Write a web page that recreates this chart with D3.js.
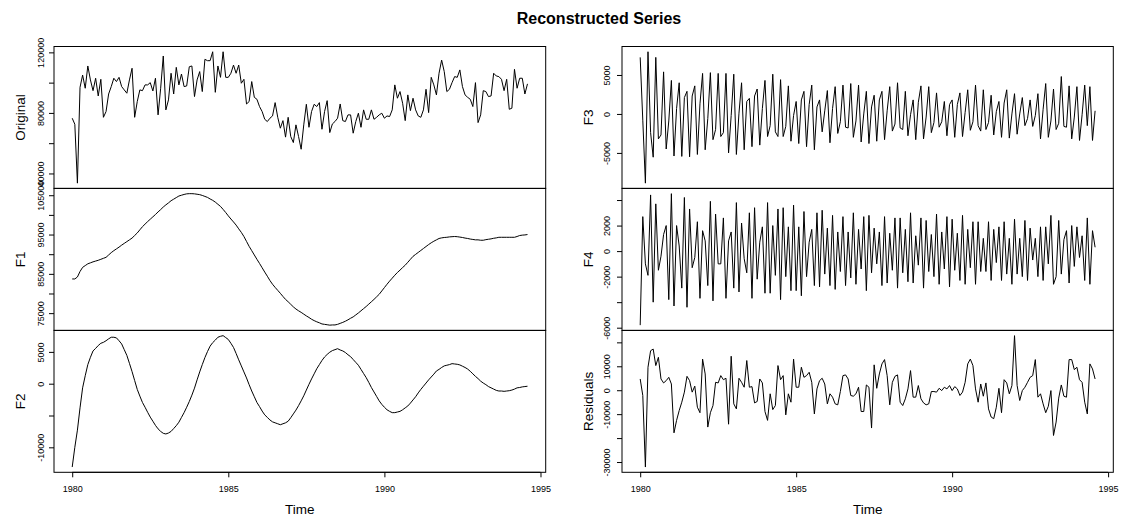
<!DOCTYPE html>
<html><head><meta charset="utf-8">
<script src="https://cdn.jsdelivr.net/npm/d3@7"></script>
<style>
body{margin:0;background:#fff}
svg{display:block}
text{font-family:"Liberation Sans",Arial,Helvetica,sans-serif;fill:#000}
</style></head>
<body><svg id="chart" width="1123" height="518"></svg>
<script>
// ---------------- data (monthly, Jan 1980 .. Aug 1994) ----------------
const startYear = 1980;
const monthsPerYear = 12;
const chartTitle = "Reconstructed Series";
const xTickYears = [1980, 1985, 1990, 1995];

const original = [
76500,72500,33600,96900,105000,96300,111000,101800,94700,102900,
91200,102200,77100,80900,92500,97400,102900,100700,103500,97400,
95200,93000,101800,109500,77100,87500,95200,94700,98500,98500,
100000,94500,102900,78700,96300,117600,82000,88600,106200,92500,
110100,98500,105700,97400,97800,110500,111000,90800,101800,107300,
94100,115400,114500,114500,120400,93600,111000,103500,120400,103500,
103500,106200,111600,106200,111600,99600,102200,85900,87500,100700,
90300,89000,84200,80900,75800,74300,76500,78000,86800,77100,
69900,74900,64000,77100,64400,60400,72100,64400,56000,72100,
85700,70500,80900,85700,84200,86800,69200,80900,88100,67000,
72700,74300,76500,85900,74900,74300,78700,78700,66600,74300,
79800,70500,82000,75800,75800,82000,75800,77100,78700,79800,
76500,78000,77600,82000,98500,89700,94100,86400,74900,91900,
81500,89700,82000,78000,77100,82000,95600,80200,103500,98500,
91900,106200,114900,107300,94100,95600,100000,104000,103500,108400,
97400,91900,90300,89000,84200,100000,73600,78700,94700,94100,
90800,91200,106200,104400,104000,102200,94700,102200,82400,83100,
108800,96300,102900,102900,92500,99200];

const f1 = [
83700,83700,84200,85600,86650,87100,87550,87800,88050,88250,
88450,88700,88950,89200,89800,90400,90900,91350,91800,92300,
92750,93200,93650,94100,94750,95400,96200,97000,97650,98300,
98900,99500,100100,100750,101350,102000,102550,103050,103600,104000,
104400,104800,105000,105200,105350,105400,105400,105350,105250,105150,
104950,104700,104450,104050,103700,103250,102700,102150,101400,100600,
99750,98950,98200,97400,96450,95550,94500,93250,92000,90900,
89800,88700,87650,86550,85450,84400,83300,82350,81550,80800,
80050,79250,78500,77900,77250,76600,76050,75600,75200,74750,
74300,73900,73450,73100,72800,72550,72250,72150,72050,71950,
72000,72000,72150,72400,72650,72950,73300,73700,74050,74550,
75050,75600,76150,76700,77300,77900,78500,79150,79800,80650,
81500,82350,83150,83900,84650,85350,85950,86600,87200,87950,
88700,89450,89950,90450,90950,91450,91950,92450,92900,93300,
93650,94000,94150,94250,94300,94400,94450,94500,94450,94350,
94250,94100,94000,93850,93750,93650,93650,93550,93550,93700,
93800,93900,94050,94150,94300,94300,94300,94300,94300,94300,
94300,94500,94750,94850,94900,95000];

const f2 = [
-13100,-10000,-7300,-3800,-650,1250,3000,4150,5150,5550,
6000,6350,6500,6750,7050,7300,7300,7200,6750,6250,
5350,4450,3200,1900,500,-900,-1950,-2950,-3700,-4500,
-5250,-5900,-6550,-7100,-7500,-7800,-7900,-7750,-7500,-7050,
-6600,-6050,-5300,-4550,-3700,-2800,-1800,-700,600,1850,
3000,4100,5050,5900,6450,6850,7300,7450,7550,7250,
6950,6350,5700,4750,3750,2800,1850,900,-150,-1150,
-2050,-2950,-3600,-4300,-4900,-5300,-5700,-6000,-6150,-6300,
-6450,-6300,-6150,-5900,-5350,-4750,-4150,-3450,-2700,-1900,
-1000,-100,750,1550,2350,3000,3650,4200,4600,4950,
5200,5350,5500,5300,5150,4900,4550,4250,3800,3350,
2900,2250,1600,950,200,-600,-1300,-2000,-2700,-3250,
-3700,-4100,-4350,-4550,-4550,-4450,-4350,-4100,-3800,-3500,
-3050,-2550,-2050,-1450,-900,-400,100,600,1050,1500,
2000,2250,2550,2800,2900,3000,3150,3100,3050,2950,
2750,2550,2300,1950,1550,1150,800,400,100,-150,
-450,-650,-850,-1050,-1150,-1150,-1200,-1150,-1100,-1000,
-850,-650,-600,-500,-450,-400];

const f3 = [
7260,-800,-8880, 7980,-2400,-5550, 7260,-3200,-2700, 5400,-4500,-900,
4300,-5400,700, 4000,-5450,2100, 2900,-5500,2300, 3600,-5200,1300,
5200,-4600,-600, 5300,-3300,-2000, 5200,-2900,-2400, 5200,-5000,-200,
5100,-5200,100, 4000,-4600,1600, 2000,-4200,2300, 3200,-4000,700,
4300,-2900,-1500, 5100,-2300,-2900, 4400,-2900,-1600, 3600,-3500,-200,
1600,-3800,1800, 2900,-4200,1200, 3700,-4600,900, 1800,-2300,400,
3000,-3700,700, 3500,-2500,-1000, 3700,-1700,-1800, 3900,-3000,-900,
3700,-3600,0, 2900,-3800,900, 2400,-3500,1800, 2900,-3300,400,
3500,-2200,-1300, 4000,-1800,-2000, 2900,-2800,-100, 1800,-3300,1500,
3600,-3200,-400, 3500,-2400,-1100, 2700,-1700,-1000, 1600,-2800,1200,
1800,-3000,1200, 2700,-2900,200, 3100,-2100,-1000, 3700,-1500,-2200,
3100,-2000,-1100, 2400,-2700,300, 1600,-3000,1400, 3100,-3100,0,
2600,-2600,0, 2100,-1500,-600, 1800,-1600,-200, 2600,-3200,600,
3900,-3000,-900, 3200,-2000,-1200, 4800,-1600,-1700, 3600,-3200,-400,
3500,-3400,-100, 3700,-1500,3500, -3400,400];

const f4 = [
-5800,2700,-1000,-1900,4400,-4000,3700,-1500,-400,1300,
2000,-3800,4500,-4300,2000,400,-2900,4200,-4400,3300,
-1300,-500,2300,-3700,1600,800,-2700,3900,-3900,2900,
-1000,-1000,2600,-3700,800,1500,-2900,3800,-3200,2200,
-600,-1700,3000,-3700,3400,-2200,700,1900,-3300,3800,
-3300,2000,-1900,3300,-3800,3400,-2000,1900,-3100,3600,
-3100,1900,-3500,3100,-2000,700,1700,-2700,3000,-2800,
3200,-1800,1800,-2700,2800,-3000,1500,-1600,2700,-2700,
1500,-2100,3000,-2600,1700,-1400,2700,-3100,2800,-1700,
1800,-1000,1500,-2700,2700,-2500,1400,-1500,2600,-2900,
2600,-1700,1700,-2400,3000,-2500,1200,-1100,2600,-2900,
2400,-1600,1300,-2000,2900,-2600,1500,-1400,2700,-2800,
2500,-1500,1400,-2300,2800,-2600,1700,-1300,2300,-2600,
2300,-1600,1000,-1600,2300,-2300,1700,-900,1900,-2300,
2300,-1800,1000,-2600,2500,-1800,1000,-2000,2400,-2300,
1800,-700,1000,-2000,1900,-2300,1900,-1000,2800,-2600,
-2000,2400,-1800,900,1600,-2500,2000,-1200,
1900,-500,1200,-2300,2600,-2600,1600,300];

const residuals = [
4700,-2200,-32100,9600,16500,17200,10300,13750,4700,3050,
4000,5400,2600,-17800,-12600,-8500,-5000,-800,5800,4000,
-800,1700,-7100,-9400,13000,6800,-15400,-9400,-6400,3300,
3050,6100,4400,5000,-14200,14200,-5700,-7800,5000,3300,
1250,12400,1250,1500,-5300,-4700,4700,3050,-8900,-12600,
-1500,-8100,-6400,10300,4400,6100,-10300,-1500,-5000,13000,
1250,1250,9600,5400,6100,7500,3300,-9900,550,4000,
5000,2600,-5700,-1500,-2900,-5700,-6100,-550,6100,6400,
4700,-2200,-2500,-1500,1250,-8900,-8900,2200,1250,-15800,
10600,800,6800,11000,12800,6100,-6100,3300,5800,6400,
-5000,-6400,-3600,550,8200,-2900,-2900,1950,-3600,-5300,
-6100,-5700,-550,-550,-800,800,-150,1250,550,1950,
-150,1500,550,-2200,-800,3300,11000,13000,10300,550,
-5000,2600,-2500,3050,-7800,-11200,-11900,-7100,800,-9400,
4400,3050,-1500,1950,22800,1950,-4300,-150,1250,3300,
5400,6100,12800,-2900,-1500,-5700,-9400,-6700,-150,-18900,
-13300,-3300,2200,-2500,-2900,12800,12800,8600,9600,4400,
3300,-5000,-9900,11000,8900,4700];

// tick values and which of them carry a label (as drawn by R)
const originalTicks = [40000,60000,80000,100000,120000];
const originalLabels = [40000,80000,120000];
const f1Ticks = [75000,80000,85000,90000,95000,100000,105000];
const f1Labels = [75000,85000,95000,105000];
const f2Ticks = [-10000,-5000,0,5000];
const f2Labels = [-10000,0,5000];
const f3Ticks = [-5000,0,5000];
const f3Labels = [-5000,0,5000];
const f4Ticks = [-6000,-4000,-2000,0,2000,4000];
const f4Labels = [-6000,-2000,0,2000];
const resTicks = [-30000,-20000,-10000,0,10000,20000];
const resLabels = [-30000,-10000,0,10000];

// ---------------- layout ----------------
const svg = d3.select("#chart");
const cols = [{x0:54, x1:545.7}, {x0:622, x1:1113.3}];
const rowEdges = [46.5, 188.4, 330.4, 472.3];

const panels = [
  {name:"Original", values:original, col:0, row:0, ticks:originalTicks, labels:originalLabels},
  {name:"F1", values:f1, col:0, row:1, ticks:f1Ticks, labels:f1Labels},
  {name:"F2", values:f2, col:0, row:2, ticks:f2Ticks, labels:f2Labels},
  {name:"F3", values:f3, col:1, row:0, ticks:f3Ticks, labels:f3Labels},
  {name:"F4", values:f4, col:1, row:1, ticks:f4Ticks, labels:f4Labels},
  {name:"Residuals", values:residuals, col:1, row:2, ticks:resTicks, labels:resLabels}
];

const n = original.length;
const times = d3.range(n).map(i => startYear + i / monthsPerYear);
const tExt = d3.extent(times);
const tPad = 0.04 * (tExt[1] - tExt[0]);

svg.append("text")
  .attr("x", 599).attr("y", 24)
  .attr("text-anchor", "middle")
  .style("font-size", "16px").style("font-weight", "bold")
  .text(chartTitle);

panels.forEach(p => {
  const c = cols[p.col];
  const top = rowEdges[p.row], bottom = rowEdges[p.row + 1];
  const x = d3.scaleLinear().domain([tExt[0] - tPad, tExt[1] + tPad]).range([c.x0, c.x1]);
  const ext = d3.extent(p.values);
  const pad = 0.04 * (ext[1] - ext[0]);
  const y = d3.scaleLinear().domain([ext[0] - pad, ext[1] + pad]).range([bottom, top]);

  const g = svg.append("g");

  g.append("path")
    .datum(p.values)
    .attr("fill", "none")
    .attr("stroke", "#000")
    .attr("stroke-width", 1)
    .attr("stroke-linejoin", "round")
    .attr("d", d3.line().x((d, i) => x(times[i])).y(d => y(d)));

  const labOff = p.col === 0 ? 10.3 : 11.6;
  const ya = g.append("g")
    .attr("transform", `translate(${c.x0},0)`)
    .call(d3.axisLeft(y).tickValues(p.ticks).tickSize(5).tickSizeOuter(0)
      .tickFormat(d => p.labels.includes(d) ? String(d) : ""));
  ya.select(".domain").remove();
  ya.selectAll(".tick line").attr("stroke", "#000");
  ya.selectAll(".tick text")
    .attr("transform", "rotate(-90)")
    .attr("x", 0).attr("y", -labOff).attr("dy", 0)
    .attr("text-anchor", "middle")
    .attr("fill", "#000")
    .style("font-size", "9px")
    .style("font-family", '"Liberation Sans",Arial,sans-serif');

  const cy = (top + bottom) / 2;
  g.append("text")
    .attr("transform", `translate(${c.x0 - 29.5},${cy}) rotate(-90)`)
    .attr("text-anchor", "middle")
    .style("font-size", "13.5px")
    .text(p.name);

  g.append("rect")
    .attr("x", c.x0).attr("y", top)
    .attr("width", c.x1 - c.x0).attr("height", bottom - top)
    .attr("fill", "none").attr("stroke", "#000").attr("stroke-width", 1);

  if (p.row === 2) {
    const xa = g.append("g")
      .attr("transform", `translate(0,${bottom})`)
      .call(d3.axisBottom(x).tickValues(xTickYears).tickSize(5).tickSizeOuter(0)
        .tickFormat(d3.format("d")));
    xa.select(".domain").remove();
    xa.selectAll(".tick line").attr("stroke", "#000");
    xa.selectAll(".tick text")
      .attr("y", 20).attr("dy", 0)
      .attr("fill", "#000")
      .style("font-size", "9px")
      .style("font-family", '"Liberation Sans",Arial,sans-serif');
    svg.append("line")
      .attr("x1", x(xTickYears[0])).attr("x2", x(xTickYears[xTickYears.length - 1]))
      .attr("y1", bottom).attr("y2", bottom)
      .attr("stroke", "#000").attr("stroke-width", 1);
    svg.append("text")
      .attr("x", (c.x0 + c.x1) / 2).attr("y", 514)
      .attr("text-anchor", "middle")
      .style("font-size", "13.5px")
      .text("Time");
  }
});
</script>
</body></html>
